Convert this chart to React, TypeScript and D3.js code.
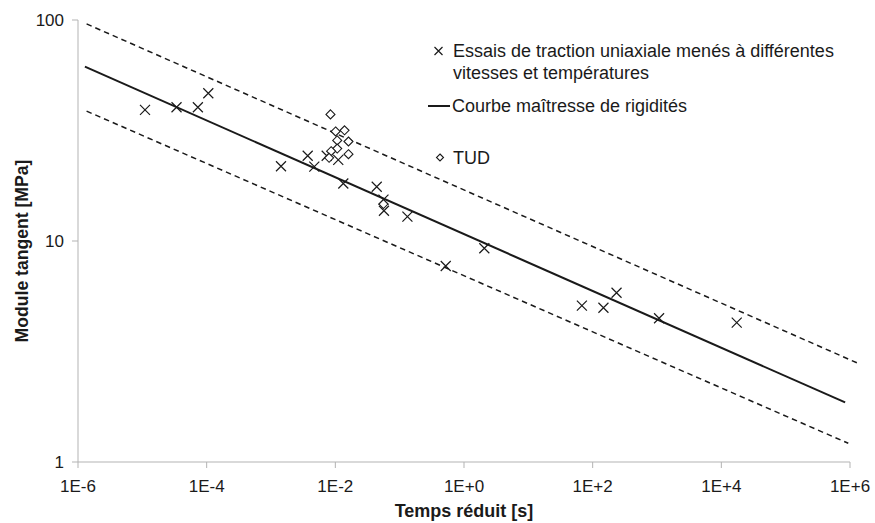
import React from "react";
import * as d3 from "d3";

// Essais de traction uniaxiale (croix)
const crossT = [1.1e-5, 3.4e-5, 7.3e-5, 1.06e-4, 1.43e-3, 3.72e-3, 4.71e-3, 7.34e-3, 1.11e-2, 1.33e-2, 4.4e-2, 5.6e-2, 5.7e-2, 0.132, 0.52, 2.07, 68, 147, 235, 1077, 17350];
const crossE = [39.2, 40.3, 40.3, 46.6, 21.8, 24.3, 21.7, 24.3, 23.3, 18.2, 17.6, 15.4, 13.7, 12.9, 7.71, 9.27, 5.1, 4.99, 5.83, 4.47, 4.27];
// TUD (losanges)
const tudT = [8.4e-3, 1.01e-2, 1.39e-2, 1.07e-2, 1.6e-2, 1.07e-2, 8.6e-3, 1.6e-2, 8.0e-3, 5.6e-2];
const tudE = [37.4, 31.3, 31.7, 28.5, 28.2, 26.2, 25.5, 24.7, 23.8, 14.7];
// Courbe maîtresse et bornes
const masterT = [1.28e-6, 8.4e5];
const masterE = [61.5, 1.86];
const upperT = [1.36e-6, 1.32e6];
const upperE = [96, 2.8];
const lowerT = [1.36e-6, 9.4e5];
const lowerE = [38.7, 1.215];

const xTicks = [1e-6, 1e-4, 1e-2, 1, 1e2, 1e4, 1e6];
const xTickLabels = ["1E-6", "1E-4", "1E-2", "1E+0", "1E+2", "1E+4", "1E+6"];
const yTicks = [1, 10, 100];
const yTickLabels = ["1", "10", "100"];

const legendLabels = [
  ["Essais de traction uniaxiale menés à différentes", "vitesses et températures"],
  ["Courbe maîtresse de rigidités"],
  ["TUD"],
];

const FONT = "'Liberation Sans', Arial, Helvetica, sans-serif";
const INK = "#1a1a1a";
const AXIS = "#b3b3b3";

export default function App() {
  const x = d3.scaleLog().domain([1e-6, 1e6]).range([78, 850]);
  const y = d3.scaleLog().domain([1, 100]).range([462, 20]);
  const line = d3
    .line<[number, number]>()
    .x((d) => x(d[0]))
    .y((d) => y(d[1]));
  const zip = (a: number[], b: number[]) => a.map((v, i) => [v, b[i]] as [number, number]);

  const cross = (cx: number, cy: number, r: number, key: any) => (
    <path
      key={key}
      d={`M${cx - r},${cy - r}L${cx + r},${cy + r}M${cx - r},${cy + r}L${cx + r},${cy - r}`}
      stroke={INK}
      strokeWidth={1.2}
      fill="none"
    />
  );
  const diamond = (cx: number, cy: number, r: number, key: any) => (
    <path
      key={key}
      d={`M${cx},${cy - r}L${cx + r},${cy}L${cx},${cy + r}L${cx - r},${cy}Z`}
      stroke={INK}
      strokeWidth={1.1}
      fill="white"
    />
  );

  return (
    <svg
      width={875}
      height={523}
      style={{ position: "absolute", left: 0, top: 0, background: "white" }}
      fontFamily={FONT}
    >
      {/* axes */}
      <line x1={78} x2={78} y1={20} y2={462} stroke={AXIS} strokeWidth={1} />
      <line x1={78} x2={850} y1={462} y2={462} stroke={AXIS} strokeWidth={1} />
      {yTicks.map((t, i) => (
        <g key={"yt" + i}>
          <line x1={72} x2={78} y1={y(t)} y2={y(t)} stroke={AXIS} />
          <text x={64} y={y(t)} dy="0.35em" textAnchor="end" fontSize={17} fill={INK}>
            {yTickLabels[i]}
          </text>
        </g>
      ))}
      {xTicks.map((t, i) => (
        <g key={"xt" + i}>
          <line x1={x(t)} x2={x(t)} y1={462} y2={468} stroke={AXIS} />
          <text x={x(t)} y={486} dy="0.35em" textAnchor="middle" fontSize={17} fill={INK}>
            {xTickLabels[i]}
          </text>
        </g>
      ))}
      <text x={464} y={511} dy="0.35em" textAnchor="middle" fontSize={18} fontWeight="bold" fill={INK}>
        Temps réduit [s]
      </text>
      <text
        transform={`translate(22,251) rotate(-90)`}
        dy="0.35em"
        textAnchor="middle"
        fontSize={17.6}
        fontWeight="bold"
        fill={INK}
      >
        Module tangent [MPa]
      </text>

      {/* lines */}
      <path d={line(zip(upperT, upperE)) || ""} stroke={INK} strokeWidth={1.5} strokeDasharray="5.5,4" fill="none" />
      <path d={line(zip(lowerT, lowerE)) || ""} stroke={INK} strokeWidth={1.5} strokeDasharray="5.5,4" fill="none" />
      <path d={line(zip(masterT, masterE)) || ""} stroke={INK} strokeWidth={2} fill="none" />

      {/* points */}
      {crossT.map((t, i) => cross(x(t), y(crossE[i]), 5, "c" + i))}
      {tudT.map((t, i) => diamond(x(t), y(tudE[i]), 4.5, "d" + i))}

      {/* legend */}
      {cross(438.5, 51, 4, "lc")}
      <text x={453} y={51} dy="0.35em" fontSize={18} fill={INK}>
        {legendLabels[0][0]}
      </text>
      <text x={453} y={73} dy="0.35em" fontSize={18} fill={INK}>
        {legendLabels[0][1]}
      </text>
      <line x1={428} x2={450} y1={106} y2={106} stroke={INK} strokeWidth={2} />
      <text x={452} y={106} dy="0.35em" fontSize={18} fill={INK}>
        {legendLabels[1][0]}
      </text>
      {diamond(440, 157.5, 3.5, "ld")}
      <text x={453} y={158} dy="0.35em" fontSize={18} fill={INK}>
        {legendLabels[2][0]}
      </text>
    </svg>
  );
}
